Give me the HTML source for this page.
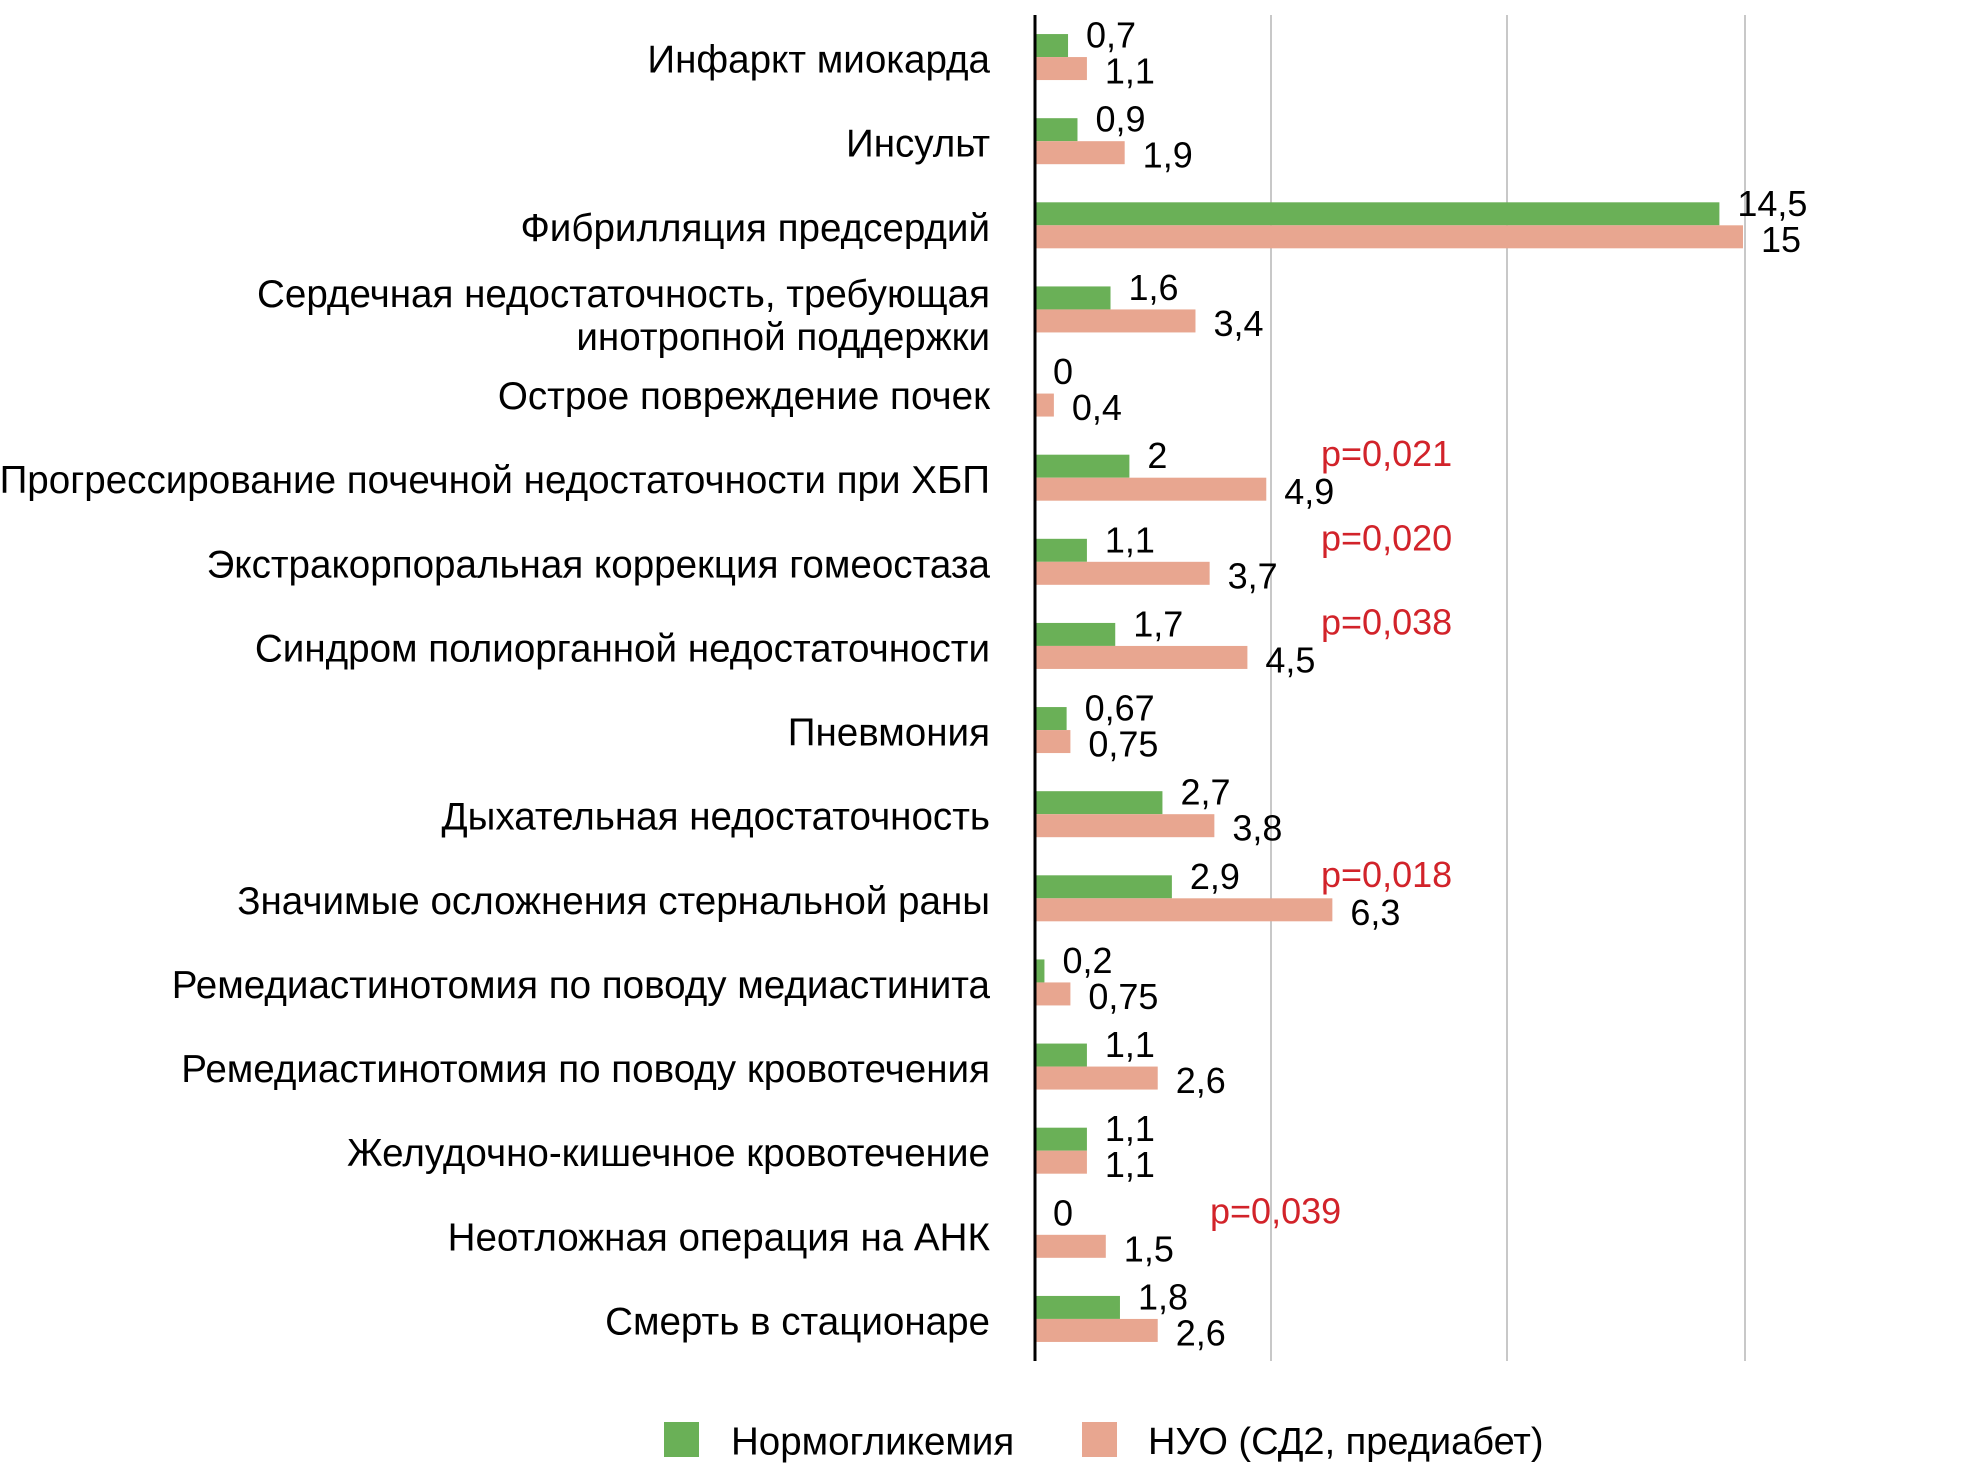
<!DOCTYPE html>
<html><head><meta charset="utf-8"><style>
html,body{margin:0;padding:0;background:#fff;}
svg{display:block;font-family:"Liberation Sans",sans-serif;}
</style></head><body>
<svg id="c" width="1982" height="1472" viewBox="0 0 1982 1472" xmlns="http://www.w3.org/2000/svg"></svg>
<script>
(function(){
var d=[
["Инфаркт миокарда",0.7,1.1,"0,7","1,1",""],
["Инсульт",0.9,1.9,"0,9","1,9",""],
["Фибрилляция предсердий",14.5,15,"14,5","15",""],
["Сердечная недостаточность, требующая|инотропной поддержки",1.6,3.4,"1,6","3,4",""],
["Острое повреждение почек",0,0.4,"0","0,4",""],
["Прогрессирование почечной недостаточности при ХБП",2,4.9,"2","4,9","p=0,021"],
["Экстракорпоральная коррекция гомеостаза",1.1,3.7,"1,1","3,7","p=0,020"],
["Синдром полиорганной недостаточности",1.7,4.5,"1,7","4,5","p=0,038"],
["Пневмония",0.67,0.75,"0,67","0,75",""],
["Дыхательная недостаточность",2.7,3.8,"2,7","3,8",""],
["Значимые осложнения стернальной раны",2.9,6.3,"2,9","6,3","p=0,018"],
["Ремедиастинотомия по поводу медиастинита",0.2,0.75,"0,2","0,75",""],
["Ремедиастинотомия по поводу кровотечения",1.1,2.6,"1,1","2,6",""],
["Желудочно-кишечное кровотечение",1.1,1.1,"1,1","1,1",""],
["Неотложная операция на АНК",0,1.5,"0","1,5","p=0,039"],
["Смерть в стационаре",1.8,2.6,"1,8","2,6",""]];
var x0=1035,u=47.2,y0=15,y1=1361,p=(y1-y0)/16,s='';
[1271,1507,1745].forEach(function(x){s+='<line x1="'+x+'" y1="'+y0+'" x2="'+x+'" y2="'+y1+'" stroke="#c8c8c8" stroke-width="2"/>';});
d.forEach(function(r,i){
 var c=y0+p*(i+0.5);
 var g=r[1]*u,k=r[2]*u;
 s+='<rect x="'+x0+'" y="'+(c-23)+'" width="'+g+'" height="23" fill="#6ab057"/>';
 s+='<rect x="'+x0+'" y="'+c+'" width="'+k+'" height="23" fill="#e8a690"/>';
 s+='<text x="'+(x0+g+18)+'" y="'+(c-22)+'" font-size="36" dominant-baseline="central">'+r[3]+'</text>';
 s+='<text x="'+(x0+k+18)+'" y="'+(c+14)+'" font-size="36" dominant-baseline="central">'+r[4]+'</text>';
 if(r[5]){var px=(i==14)?1210:1321;s+='<text x="'+px+'" y="'+(c-24)+'" font-size="36" fill="#d2232a" dominant-baseline="central">'+r[5]+'</text>';}
 var L=r[0].split('|');
 if(L.length==1) s+='<text x="990" y="'+(c+3)+'" font-size="38.6" text-anchor="end" dominant-baseline="central">'+L[0]+'</text>';
 else {s+='<text x="990" y="'+(c-15)+'" font-size="38.6" text-anchor="end" dominant-baseline="central">'+L[0]+'</text>';
 s+='<text x="990" y="'+(c+28)+'" font-size="38.6" text-anchor="end" dominant-baseline="central">'+L[1]+'</text>';}
});
s+='<line x1="'+x0+'" y1="'+y0+'" x2="'+x0+'" y2="'+y1+'" stroke="#000" stroke-width="3"/>';
s+='<rect x="664" y="1422" width="35" height="35" fill="#6ab057"/>';
s+='<text x="731" y="1442" font-size="38.5" dominant-baseline="central">Нормогликемия</text>';
s+='<rect x="1082" y="1422" width="35" height="35" fill="#e8a690"/>';
s+='<text x="1148" y="1442" font-size="38" dominant-baseline="central">НУО (СД2, предиабет)</text>';
document.getElementById('c').innerHTML=s;
})();
</script>
</body></html>
